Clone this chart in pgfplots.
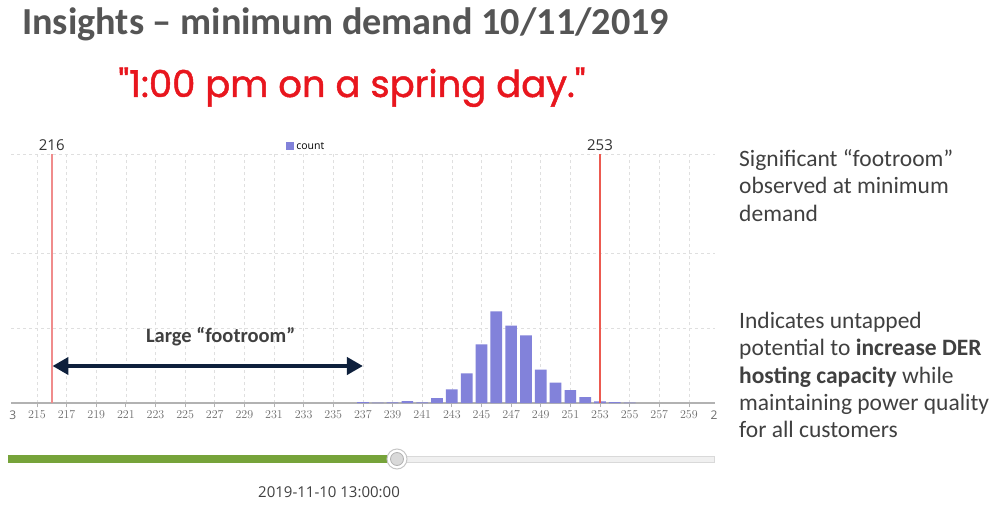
\documentclass[border=0pt]{standalone}
\usepackage{fontspec}
\setmainfont{Carlito}
\newfontfamily\tickfont{Open Sans}
\newfontfamily\comicfont{Poppins}[FakeBold=1.3]
\usepackage{pgfplots}
\pgfplotsset{compat=1.18}
\usetikzlibrary{arrows.meta}
\definecolor{barc}{RGB}{130,130,218}
\definecolor{redA}{RGB}{240,140,140}
\definecolor{redB}{RGB}{236,90,80}
\definecolor{navy}{RGB}{14,32,60}
\definecolor{txtgray}{RGB}{64,64,64}
\definecolor{titlegray}{RGB}{85,85,85}
\definecolor{subred}{RGB}{232,22,30}
\definecolor{slgreen}{RGB}{118,163,58}
\begin{document}
\begin{tikzpicture}[x=1pt,y=1pt]
\useasboundingbox (0,0) rectangle (1000,507);
\fill[white] (0,0) rectangle (1000,507);
\begin{axis}[
  at={(11pt,104pt)}, anchor=south west,
  scale only axis, width=704pt, height=249pt,
  xmin=213.25, xmax=260.76, ymin=0, ymax=249,
  clip=false,
  axis x line*=bottom, axis y line*=left,
  y axis line style={draw=none},
  x axis line style={draw=gray!60, line width=1.2pt, -},
  xtick={215,217,...,259},
  ytick={75,150,249}, yticklabels={},
  ytick style={draw=none},
  xtick style={draw=gray!60, line width=0.8pt},
  tick align=outside, major tick length=4pt,
  xmajorgrids, ymajorgrids,
  grid style={draw=gray!25, dashed, line width=0.6pt},
  ticklabel style={font=\tickfont\fontsize{12}{12}\selectfont, text=gray!85!black},
  legend style={at={(0.419,1)}, anchor=south, yshift=1pt, draw=none, fill=none,
    font=\tickfont\fontsize{10.5}{10.5}\selectfont, inner sep=0pt},
  legend image code/.code={\fill[#1] (0pt,-3.5pt) rectangle (8.5pt,4.5pt);},
]
\addplot[ybar, bar width=0.79, fill=barc, draw=none] coordinates {
(237,1) (238,0.5) (239,0.6) (240,2) (241,0.6) (242,5) (243,13.7) (244,29.7)
(245,58.7) (246,91.7) (247,77.3) (248,67.7) (249,33.3) (250,20.3) (251,13)
(252,6) (253,1.7) (254,1) (255,0.3)};
\addlegendentry{count}
\addplot[draw=redA, line width=1.6pt, forget plot] coordinates {(216,0) (216,249)};
\addplot[draw=redB, line width=1.6pt, forget plot] coordinates {(253,0) (253,249)};
\node[anchor=base, inner sep=0pt, font=\tickfont\fontsize{15}{15}\selectfont, text=black!80] at (axis cs:216,252) {216};
\node[anchor=base, inner sep=0pt, font=\tickfont\fontsize{15}{15}\selectfont, text=black!80] at (axis cs:253,252) {253};
\draw[line width=4pt, color=navy, {Triangle[length=16pt,width=17pt]}-{Triangle[length=16pt,width=17pt]}] (axis cs:216.05,37) -- (axis cs:237,37);
\node[font=\bfseries\fontsize{20.5}{22}\selectfont, text=txtgray] at (axis cs:227.4,66.3) {Large “footroom”};
\end{axis}
% partial edge tick labels (as cropped in the reference)
\node[anchor=north east, inner sep=0pt, font=\tickfont\fontsize{12}{12}\selectfont, text=gray!85!black] at (16.5,96) {3};
\node[anchor=north west, inner sep=0pt, font=\tickfont\fontsize{12}{12}\selectfont, text=gray!85!black] at (710.5,96) {2};
% slider
\fill[gray!12] (396,45) rectangle (714,51);
\draw[gray!30, line width=0.6pt] (396,45) rectangle (714,51);
\fill[slgreen] (8,44) rectangle (397,52);
\filldraw[fill=white, draw=gray!45, line width=1pt] (397,48) circle (10);
\filldraw[fill=gray!30, draw=gray!60, line width=0.8pt] (397,48) circle (6.5);
\node[font=\tickfont\fontsize{15}{15}\selectfont, text=txtgray] at (329,15) {2019-11-10 13:00:00};
% titles
\node[anchor=base west, inner sep=0pt, font=\bfseries\fontsize{38.2}{40}\selectfont, text=titlegray] at (22,472) {Insights – minimum demand 10/11/2019};
\node[anchor=base, inner sep=0pt, font=\comicfont\fontsize{37}{39}\selectfont, text=subred] at (352,410) {"1:00 pm on a spring day."};
% right text
\begin{scope}[every node/.style={anchor=base west, inner sep=0pt, font=\fontsize{23.5}{27}\selectfont, text=txtgray}]
\node at (739,341) {Significant “footroom”};
\node at (739,314) {observed at minimum};
\node at (739,286) {demand};
\node at (739,179) {Indicates untapped};
\node at (739,151.5) {potential to \textbf{increase DER}};
\node at (739,124) {\textbf{hosting capacity} while};
\node at (739,97) {maintaining power quality};
\node at (739,69.5) {for all customers};
\end{scope}
\end{tikzpicture}
\end{document}
